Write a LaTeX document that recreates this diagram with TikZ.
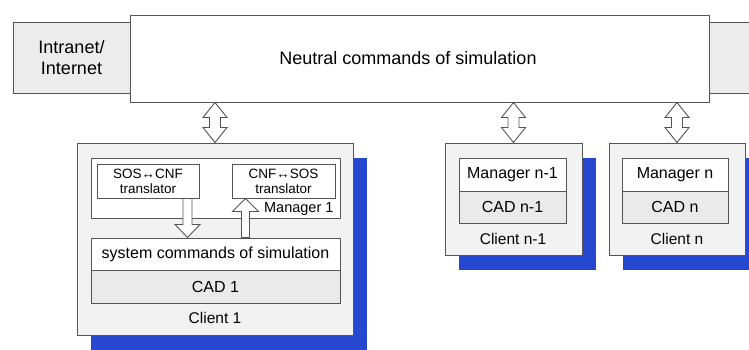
\documentclass[tikz,border=0pt]{standalone}
\usepackage{fontspec}
\setmainfont{Liberation Sans}
\usetikzlibrary{calc,shadows}

\definecolor{edge}{RGB}{85,85,85}
\definecolor{paleback}{RGB}{242,242,242}
\definecolor{cadgray}{RGB}{234,234,234}
\definecolor{netgray}{RGB}{236,236,236}
\definecolor{shblue}{RGB}{38,72,208}

\tikzset{
  box/.style={draw=edge, line width=1pt, inner sep=0pt, minimum width=#1},
  client/.style={box=#1, fill=paleback,
    general shadow={fill=shblue, shadow xshift=14pt, shadow yshift=-15pt}},
  blk/.style={draw=edge, fill=white, line width=0.9pt, line join=miter},
  big/.style={font=\fontsize{18}{21}\selectfont},
  mid/.style={font=\fontsize{16}{18}\selectfont},
  small/.style={font=\fontsize{13.5}{15}\selectfont},
}

% hollow double-headed block arrow between a top point and a bottom point
\newcommand{\dualarrow}[2]{%
  \draw[blk] let \p1=(#1), \p2=(#2) in
    (\x1,\y1) -- (\x1+12pt,\y1-15pt) -- (\x1+5.5pt,\y1-15pt)
    -- (\x1+5.5pt,\y2+15pt) -- (\x1+12pt,\y2+15pt) -- (\x1,\y2)
    -- (\x1-12pt,\y2+15pt) -- (\x1-5.5pt,\y2+15pt)
    -- (\x1-5.5pt,\y1-15pt) -- (\x1-12pt,\y1-15pt) -- cycle;}
% hollow block arrow pointing down: tail #1, tip #2
\newcommand{\arrowdown}[2]{%
  \draw[blk] let \p1=(#1), \p2=(#2) in
    (\x1-4.5pt,\y1) -- (\x1+4.5pt,\y1) -- (\x1+4.5pt,\y2+13pt)
    -- (\x1+12.5pt,\y2+13pt) -- (\x1,\y2) -- (\x1-12.5pt,\y2+13pt)
    -- (\x1-4.5pt,\y2+13pt) -- cycle;}
% hollow block arrow pointing up: tail #1, tip #2
\newcommand{\arrowup}[2]{%
  \draw[blk] let \p1=(#1), \p2=(#2) in
    (\x1-4pt,\y1) -- (\x1-4pt,\y2-13pt) -- (\x1-13pt,\y2-13pt)
    -- (\x1,\y2) -- (\x1+13pt,\y2-13pt) -- (\x1+4pt,\y2-13pt)
    -- (\x1+4pt,\y1) -- cycle;}

\begin{document}
\begin{tikzpicture}[x=1pt,y=-1pt]
  \useasboundingbox (0,0) rectangle (749,349);
  \clip (0,0) rectangle (749,349);
  \fill[white] (0,0) rectangle (749,349);

  % network row
  \node[box=117pt, minimum height=71pt, fill=netgray, big, align=center]
    (inet) at (71.5,57.5) {Intranet/\\Internet};
  \node[box=60pt, minimum height=71pt, fill=netgray] (more) at (739,57.5) {};
  \node[box=579pt, minimum height=87pt, fill=white] (net) at (419.5,58.5) {};
  \node[big] (nettext) at (408,58) {Neutral commands of simulation};

  % client 1
  \node[client=276pt, minimum height=192pt] (c1) at (215,239) {};
  \node[box=249pt, minimum height=60pt, fill=white] (m1) at (215.5,188) {};
  \node[box=102pt, minimum height=34pt, fill=white, small, align=center]
    (sos) at (148,181) {SOS↔CNF\\translator};
  \node[box=103pt, minimum height=34pt, fill=white, small, align=center]
    (cnf) at (283.5,181) {CNF↔SOS\\translator};
  \node[small, anchor=east, font=\fontsize{14.5}{16}\selectfont] (m1label)
    at (337,209) {Manager 1};
  \node[box=249pt, minimum height=32pt, fill=white, mid] (sys) at (215.5,254)
    {system commands of simulation};
  \node[box=249pt, minimum height=33pt, fill=cadgray, mid] (cad1)
    at (215.5,286.5) {CAD 1};
  \node[mid, font=\fontsize{15.5}{17}\selectfont] (c1label) at (215,318) {Client 1};

  % client n-1
  \node[client=137pt, minimum height=112pt] (cn1) at (513.5,199) {};
  \node[box=107pt, minimum height=33pt, fill=white, mid] (mn1) at (512.5,174.5)
    {Manager n-1};
  \node[box=107pt, minimum height=32pt, fill=cadgray, mid] (cadn1) at (512.5,207)
    {CAD n-1};
  \node[mid, font=\fontsize{15.5}{17}\selectfont] (cn1label) at (513,239) {Client n-1};

  % client n
  \node[client=136pt, minimum height=112pt] (cn) at (677,199) {};
  \node[box=106pt, minimum height=33pt, fill=white, mid] (mn) at (675,174.5)
    {Manager n};
  \node[box=106pt, minimum height=32pt, fill=cadgray, mid] (cadn) at (675,207)
    {CAD n};
  \node[mid, font=\fontsize{15.5}{17}\selectfont] (cnlabel) at (677,239) {Client n};

  % links between the network and each client
  \dualarrow{c1.north |- net.south}{c1.north}
  \dualarrow{cn1.north |- net.south}{cn1.north}
  \dualarrow{cn.north |- net.south}{cn.north}

  % translation flow inside client 1
  \coordinate (dntail) at ([xshift=-12pt]sos.south east);
  \coordinate (uptip) at ([xshift=14pt]cnf.south west);
  \arrowdown{dntail}{dntail |- sys.north}
  \arrowup{uptip |- sys.north}{uptip}
\end{tikzpicture}
\end{document}
